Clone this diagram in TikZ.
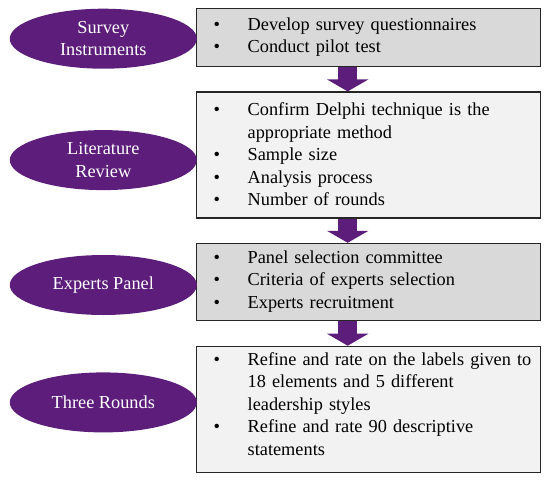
\documentclass[tikz,border=0pt]{standalone}
\usepackage{fontspec}
\setmainfont{Liberation Serif}
\usetikzlibrary{positioning,shapes.geometric,arrows.meta}
\definecolor{purp}{RGB}{92,30,122}
\newcommand{\bitem}[1]{\noindent\hangindent=50pt\hangafter=1\makebox[50pt][l]{\hspace{16pt}\textbullet}#1\par}

\begin{document}
\begin{tikzpicture}[x=1pt, y=-1pt,
    every node/.append style={font=\fontsize{18.3}{22.5}\selectfont},
    stage/.style={ellipse, fill=purp, text=white, minimum width=187pt, minimum height=60pt, align=center, inner sep=0pt},
    listbox/.style={rectangle, draw=black!85, line width=1.4pt, text width=342pt, inner xsep=1pt, align=left, anchor=north west, execute at end node={\vspace{1.5pt}}},
    flow/.style={purp, line width=19pt, -{Triangle[width=41pt,length=12pt]}}]
    \useasboundingbox (0,0) rectangle (550,483);
    % steps on the right
    \node[listbox, fill=black!15, minimum height=58pt] (svy) at (196,8) {\bitem{Develop survey questionnaires}\bitem{Conduct pilot test}};
    \node[listbox, fill=black!5, minimum height=126pt, below=24pt of svy] (lit) {\bitem{Confirm Delphi technique is the\newline appropriate method}\bitem{Sample size}\bitem{Analysis process}\bitem{Number of rounds}};
    \node[listbox, fill=black!15, minimum height=77pt, below=24pt of lit] (exp) {\bitem{Panel selection committee}\bitem{Criteria of experts selection}\bitem{Experts recruitment}};
    \node[listbox, fill=black!5, minimum height=126pt, below=24.5pt of exp, execute at end node={\vspace{10pt}}] (rnd) {\bitem{Refine and rate on the labels given to\newline 18 elements and 5 different\newline leadership styles}\bitem{Refine and rate 90 descriptive\newline statements}};
    % stages on the left
    \node[stage, left=-1pt of svy, yshift=-1pt] (si) {Survey\\Instruments};
    \node[stage, left=-1pt of lit, yshift=-5pt] (lr) {Literature\\Review};
    \node[stage, left=-1pt of exp, yshift=-3pt] (ep) {Experts Panel};
    \node[stage, left=-1pt of rnd, yshift=7pt] (tr) {Three Rounds};
    % arrows
    \draw[flow] ([xshift=-21pt]svy.south) -- ([xshift=-21pt]lit.north);
    \draw[flow] ([xshift=-21pt]lit.south) -- ([xshift=-21pt]exp.north);
    \draw[flow] ([xshift=-21pt]exp.south) -- ([xshift=-21pt]rnd.north);
\end{tikzpicture}
\end{document}
